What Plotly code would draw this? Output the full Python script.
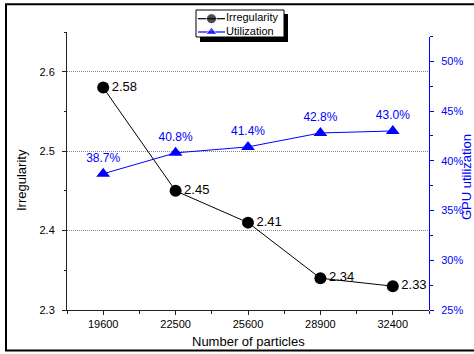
import plotly.graph_objects as go

# Data
particles = ["19600", "22500", "25600", "28900", "32400"]
irregularity = [2.58, 2.45, 2.41, 2.34, 2.33]
utilization = [38.7, 40.8, 41.4, 42.8, 43.0]
irr_ticks = [2.3, 2.4, 2.5, 2.6]
util_ticks = [25, 30, 35, 40, 45, 50]

W, H = 474, 354
FONT = "Liberation Sans, Arial, sans-serif"
BLUE = "#0000FF"
AXIS = "#222222"


def fx(p):
    """pixel x -> paper fraction"""
    return p / W


def fy(p):
    """pixel y (from top) -> paper fraction"""
    return 1 - p / H


idx = list(range(len(particles)))
half_steps = [i - 0.5 for i in range(len(particles) + 1)]

fig = go.Figure()

# Irregularity (left axis)
fig.add_trace(go.Scatter(
    x=idx, y=irregularity, xaxis="x", yaxis="y",
    mode="lines+markers+text",
    line=dict(color="black", width=1),
    marker=dict(symbol="circle", size=12, color="black"),
    text=[f"{v:.2f}" for v in irregularity],
    textposition="middle right",
    textfont=dict(family=FONT, size=13, color="black"),
    cliponaxis=False, hoverinfo="skip", showlegend=False,
))

# GPU utilization (right axis)
fig.add_trace(go.Scatter(
    x=idx, y=utilization, xaxis="x", yaxis="y2",
    mode="lines+markers+text",
    line=dict(color=BLUE, width=1),
    marker=dict(symbol="triangle-up", size=12, color=BLUE),
    text=[f"{v:.1f}%" for v in utilization],
    textposition="top center",
    textfont=dict(family=FONT, size=12, color=BLUE),
    cliponaxis=False, hoverinfo="skip", showlegend=False,
))

# Boxed legend with drop shadow, drawn on its own hidden axes
LX0, LX1, LY0, LY1 = 196, 284, 10, 37
legend_rows = [
    ("Irregularity", "circle", "black", 18.7),
    ("Utilization", "triangle-up", BLUE, 32.0),
]
for name, sym, col, ry in legend_rows:
    fig.add_trace(go.Scatter(
        x=[198, 211.5, 225], y=[ry, ry, ry], xaxis="x3", yaxis="y3",
        mode="lines+markers",
        line=dict(color=col, width=1.2),
        marker=dict(symbol=sym, size=[0, 10, 0], color=col),
        cliponaxis=False, hoverinfo="skip", showlegend=False,
    ))
    fig.add_trace(go.Scatter(
        x=[226], y=[ry], xaxis="x3", yaxis="y3",
        mode="text", text=[name], textposition="middle right",
        textfont=dict(family=FONT, size=11, color="black"),
        cliponaxis=False, hoverinfo="skip", showlegend=False,
    ))

shapes = [
    # outer frame
    dict(type="rect", xref="paper", yref="paper",
         x0=fx(6), x1=1.05, y0=fy(350.5), y1=fy(4.3),
         line=dict(color="black", width=2), layer="below"),
    # legend shadow and box
    dict(type="rect", xref="paper", yref="paper",
         x0=fx(LX0 + 4), x1=fx(LX1 + 4), y0=fy(LY1 + 5), y1=fy(LY0 + 4),
         line=dict(width=0), fillcolor="black", layer="below"),
    dict(type="rect", xref="paper", yref="paper",
         x0=fx(LX0), x1=fx(LX1), y0=fy(LY1), y1=fy(LY0),
         line=dict(color="black", width=1), fillcolor="white", layer="below"),
]

annotations = [
    dict(text="Number of particles", x=fx(248), y=fy(341), xref="paper", yref="paper",
         showarrow=False, xanchor="center", yanchor="middle",
         font=dict(family=FONT, size=13, color="black")),
    dict(text="Irregularity", x=fx(21), y=fy(180), xref="paper", yref="paper",
         showarrow=False, xanchor="center", yanchor="middle", textangle=-90,
         font=dict(family=FONT, size=13, color="black")),
    dict(text="GPU utilization", x=fx(466), y=fy(177), xref="paper", yref="paper",
         showarrow=False, xanchor="center", yanchor="middle", textangle=-90,
         font=dict(family=FONT, size=13, color=BLUE)),
]

fig.update_layout(
    width=W, height=H,
    margin=dict(l=0, r=0, t=0, b=0),
    paper_bgcolor="white", plot_bgcolor="rgba(0,0,0,0)",
    font=dict(family=FONT, size=11, color="black"),
    shapes=shapes, annotations=annotations,
    xaxis=dict(
        domain=[fx(67), fx(429)], range=[-0.5, len(particles) - 0.5],
        tickmode="array", tickvals=idx, ticktext=particles,
        ticks="outside", ticklen=4, tickwidth=1, tickcolor=AXIS,
        minor=dict(tickmode="array", tickvals=half_steps, ticks="outside",
                   ticklen=2.5, tickwidth=1, tickcolor=AXIS),
        showline=True, linecolor=AXIS, linewidth=1,
        showgrid=False, zeroline=False, automargin=False,
        tickfont=dict(family=FONT, size=11, color="black"),
        anchor="y",
    ),
    yaxis=dict(
        domain=[fy(310), fy(32)], range=[2.3, 2.65],
        tickmode="array", tickvals=irr_ticks, ticktext=[f"{t:.1f}" for t in irr_ticks],
        ticks="outside", ticklen=4, tickwidth=1, tickcolor=AXIS,
        ticklabelstandoff=5,
        minor=dict(dtick=0.05, tick0=2.3, ticks="outside", ticklen=2.5,
                   tickwidth=1, tickcolor=AXIS, showgrid=False),
        showline=True, linecolor=AXIS, linewidth=1,
        showgrid=True, gridcolor="#8a8a8a", gridwidth=1, griddash="1px,1px",
        zeroline=False, automargin=False,
        tickfont=dict(family=FONT, size=11, color="black"),
        anchor="x",
    ),
    yaxis2=dict(
        domain=[fy(310), fy(36.5)], range=[25, 52.5],
        tickmode="array", tickvals=util_ticks, ticktext=[f"{t}%" for t in util_ticks],
        ticks="outside", ticklen=4, tickwidth=1, tickcolor=BLUE,
        ticklabelstandoff=5,
        minor=dict(dtick=2.5, tick0=25, ticks="outside", ticklen=2.5,
                   tickwidth=1, tickcolor=BLUE, showgrid=False),
        showline=True, linecolor=BLUE, linewidth=1,
        showgrid=False, zeroline=False, automargin=False,
        side="right", anchor="x",
        tickfont=dict(family=FONT, size=11, color=BLUE),
    ),
    xaxis3=dict(domain=[fx(LX0), fx(LX1)], range=[LX0, LX1], visible=False,
                fixedrange=True, anchor="y3"),
    yaxis3=dict(domain=[fy(LY1), fy(LY0)], range=[LY1, LY0], visible=False,
                fixedrange=True, anchor="x3"),
)

fig.write_html("out.html")
